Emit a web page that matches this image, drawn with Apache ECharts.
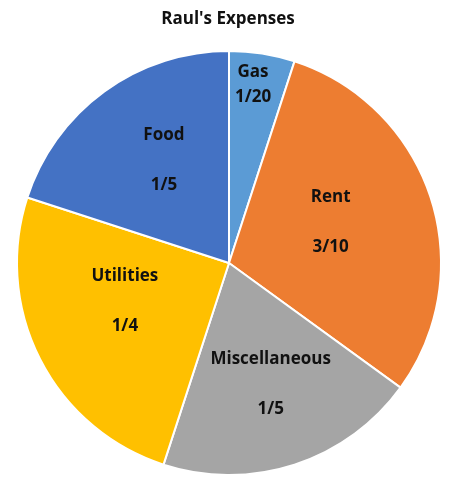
<!DOCTYPE html>
<html><head><meta charset="utf-8">
<script src="https://cdn.jsdelivr.net/npm/echarts@6/dist/echarts.min.js"></script>
<style>html,body{margin:0;padding:0;background:#fff}#c{width:456px;height:487px}</style>
</head><body><div id="c"></div>
<script>
const categories = ['Gas', 'Rent', 'Miscellaneous', 'Utilities', 'Food'];
const values = [0.05, 0.30, 0.20, 0.25, 0.20];
const fractionLabels = ['1/20', '3/10', '1/5', '1/4', '1/5'];
const colors = ['#5B9BD5', '#ED7D31', '#A5A5A5', '#FFC000', '#4472C4'];

const chart = echarts.init(document.getElementById('c'));
const font = '"Open Sans", "Liberation Sans", sans-serif';
chart.setOption({
  animation: false,
  title: {
    text: "Raul's Expenses", left: 'center', top: 6,
    textStyle: { fontFamily: font, fontSize: 17, fontWeight: 'bold', color: '#111' }
  },
  series: [{
    type: 'pie',
    center: [229, 263],
    radius: [0, 212],
    startAngle: 90,
    clockwise: true,
    itemStyle: { borderColor: '#fff', borderWidth: 2 },
    label: {
      position: 'inner',
      fontFamily: font, fontSize: 17, fontWeight: 'bold', color: '#111',
      lineHeight: 25, align: 'center',
      formatter: p => p.dataIndex === 0 ? p.name + '\n' + fractionLabels[p.dataIndex]
                                        : p.name + '\n\n' + fractionLabels[p.dataIndex]
    },
    labelLine: { show: false },
    labelLayout: p => {
      const adj = [{dx: 7, dy: -71}, {dx: -2, dy: -7}, {dx: 8, dy: 17}, {dx: -7, dy: -11}, {dx: -1, dy: -15}];
      return adj[p.dataIndex];
    },
    data: categories.map((c, i) => ({ name: c, value: values[i], itemStyle: { color: colors[i] } }))
  }]
});
</script></body></html>
